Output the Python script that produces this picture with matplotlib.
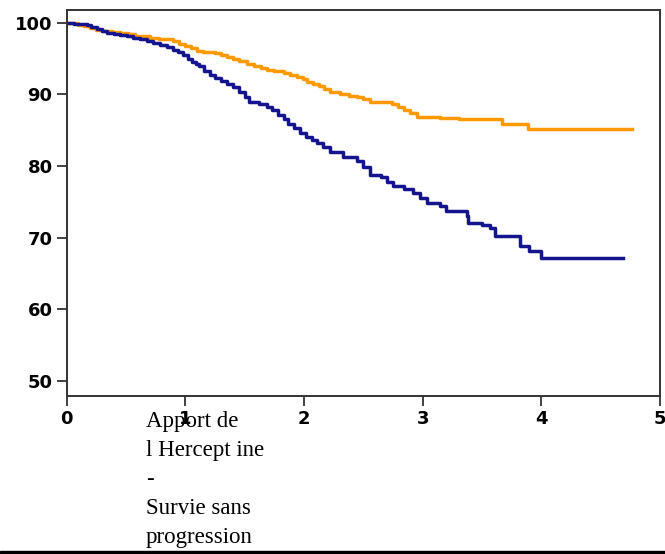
import matplotlib.pyplot as plt
from matplotlib.patches import Rectangle

# Herceptin arm (orange) - time in years, % free of progression
t_orange = [0, 0.05, 0.10, 0.15, 0.20, 0.25, 0.30, 0.38, 0.45, 0.52, 0.58,
            0.64, 0.70, 0.78, 0.85, 0.90, 0.95, 1.00, 1.05, 1.10, 1.15, 1.25,
            1.30, 1.35, 1.40, 1.45, 1.52, 1.58, 1.64, 1.69, 1.75, 1.83, 1.88,
            1.94, 1.99, 2.03, 2.08, 2.13, 2.17, 2.22, 2.30, 2.38, 2.45, 2.50,
            2.56, 2.74, 2.79, 2.84, 2.89, 2.95, 3.15, 3.31, 3.67, 3.89, 4.76]
s_orange = [100, 99.9, 99.7, 99.5, 99.3, 99.0, 98.8, 98.7, 98.6, 98.4, 98.2,
            98.1, 97.9, 97.8, 97.7, 97.4, 97.1, 96.8, 96.5, 96.1, 95.9, 95.8,
            95.5, 95.2, 94.9, 94.6, 94.3, 94.0, 93.7, 93.4, 93.2, 93.0, 92.7,
            92.4, 92.1, 91.7, 91.4, 91.2, 90.7, 90.3, 90.0, 89.8, 89.7, 89.3,
            89.0, 88.6, 88.2, 87.8, 87.4, 86.9, 86.7, 86.5, 85.9, 85.1, 85.1]

# Control arm (blue)
t_blue = [0, 0.06, 0.17, 0.21, 0.26, 0.30, 0.34, 0.40, 0.45, 0.51, 0.56,
          0.62, 0.68, 0.73, 0.79, 0.85, 0.90, 0.94, 0.98, 1.02, 1.06, 1.09,
          1.12, 1.16, 1.21, 1.25, 1.30, 1.35, 1.40, 1.45, 1.50, 1.54, 1.62,
          1.69, 1.73, 1.78, 1.83, 1.87, 1.92, 1.97, 2.02, 2.07, 2.11, 2.16,
          2.22, 2.33, 2.45, 2.50, 2.56, 2.65, 2.70, 2.75, 2.84, 2.92, 2.98,
          3.04, 3.15, 3.20, 3.37, 3.38, 3.50, 3.57, 3.61, 3.82, 3.90, 4.00,
          4.69]
s_blue = [100, 99.8, 99.7, 99.4, 99.1, 98.8, 98.6, 98.4, 98.3, 98.1, 97.9,
          97.7, 97.4, 97.2, 96.9, 96.6, 96.2, 95.9, 95.5, 95.0, 94.5, 94.2,
          93.9, 93.3, 92.7, 92.3, 91.9, 91.4, 91.0, 90.4, 89.6, 89.0, 88.6,
          88.3, 87.8, 87.1, 86.5, 85.9, 85.3, 84.6, 84.1, 83.6, 83.2, 82.6,
          82.0, 81.2, 80.7, 79.8, 78.8, 78.4, 77.8, 77.2, 76.8, 76.3, 75.6,
          74.9, 74.4, 73.7, 73.0, 72.0, 71.7, 71.4, 70.2, 68.8, 68.1, 67.2,
          67.2]

x_ticks = [0, 1, 2, 3, 4, 5]
y_ticks = [50, 60, 70, 80, 90, 100]
caption = "Apport de\nl Hercept ine\n-\nSurvie sans\nprogression"

fig = plt.figure(figsize=(6.65, 5.54), dpi=100)
ax = fig.add_axes([0.1, 0.2852, 0.8925, 0.697])

ax.plot(t_orange, s_orange, drawstyle='steps-post', color='#ff9900', lw=2.5)
ax.plot(t_blue, s_blue, drawstyle='steps-post', color='#14148f', lw=2.5)

ax.set_xlim(0, 5)
ax.set_ylim(47.9, 101.8)
ax.set_xticks(x_ticks)
ax.set_yticks(y_ticks)
ax.set_xticklabels([str(v) for v in x_ticks], fontweight='bold', fontsize=13)
ax.set_yticklabels([str(v) for v in y_ticks], fontweight='bold', fontsize=13)
ax.tick_params(direction='out', length=7, width=1.3, color='#333333', pad=3)
for sp in ax.spines.values():
    sp.set_color('#333333')
    sp.set_linewidth(1.4)

fig.text(0.2195, 1 - 411 / 554, caption, ha='left', va='top',
         family='Liberation Serif', fontsize=16.5, linespacing=1.5)

fig.patches.append(Rectangle((0, 0), 1, 3 / 554, transform=fig.transFigure,
                             color='black'))

fig.savefig('out.png', dpi=100)
